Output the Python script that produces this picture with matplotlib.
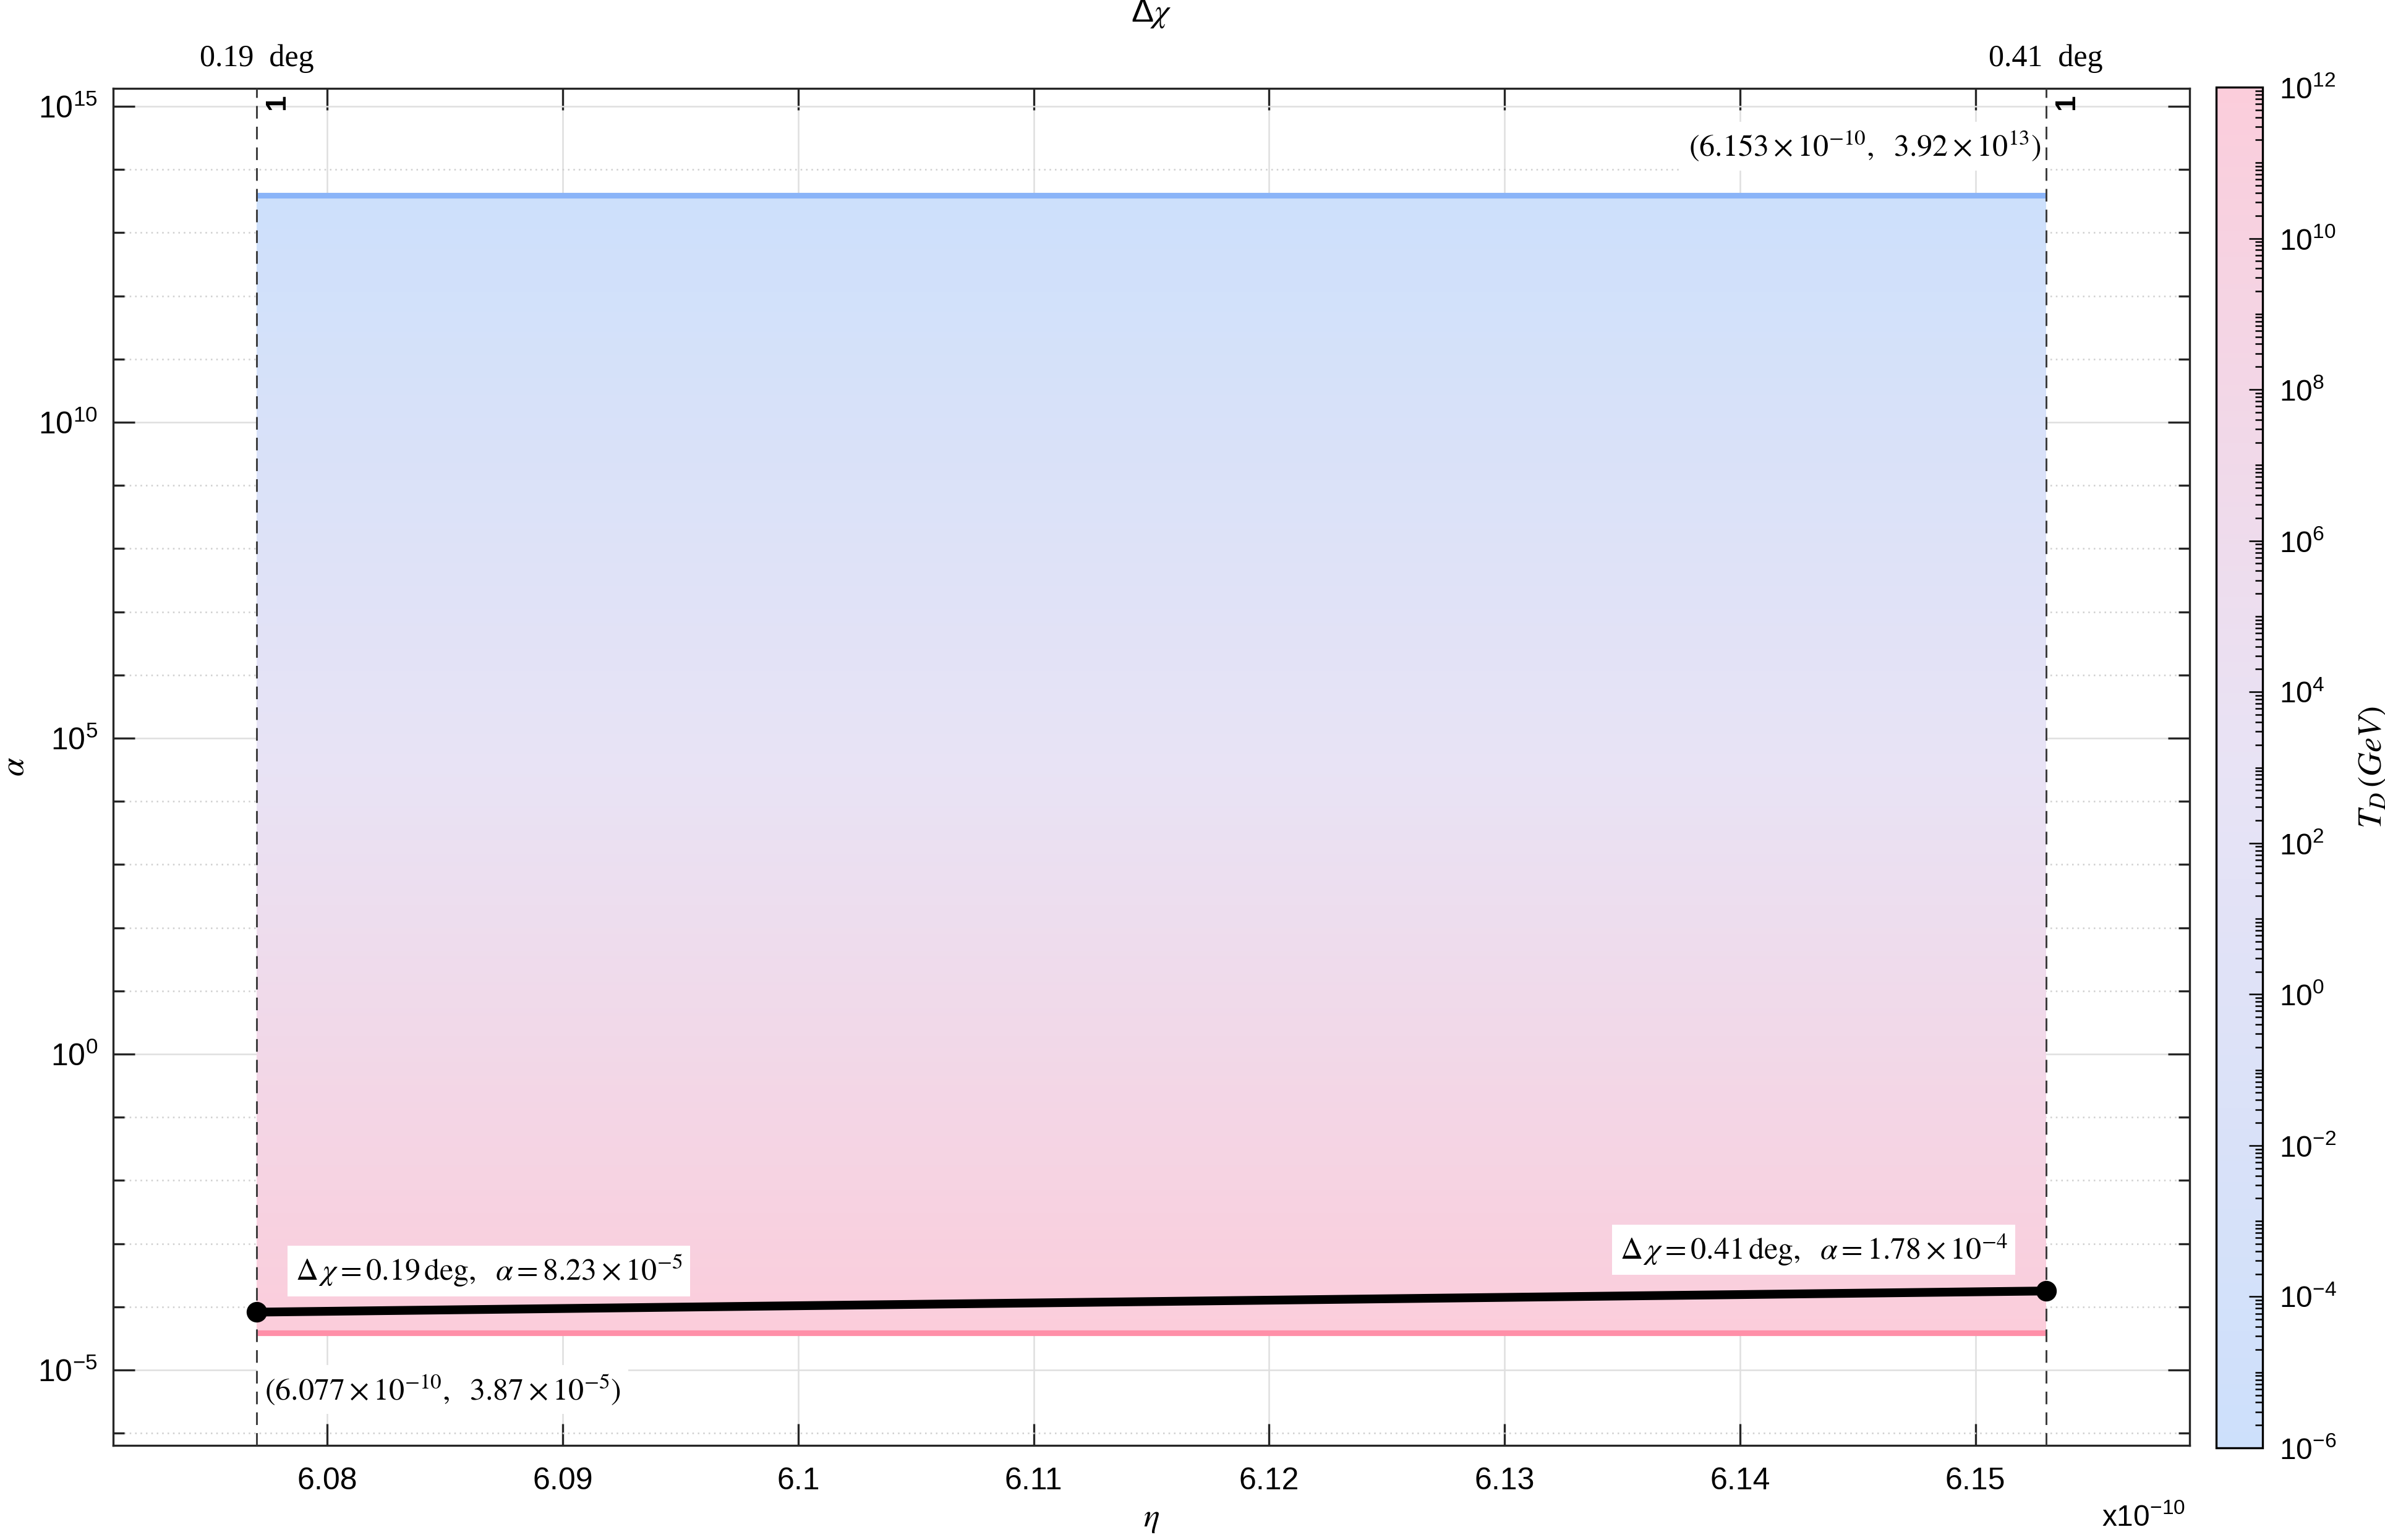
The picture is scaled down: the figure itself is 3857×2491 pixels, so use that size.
import numpy as np
import matplotlib
matplotlib.use("Agg")
import matplotlib.pyplot as plt
from matplotlib import colors, ticker, transforms

plt.rcParams['font.family'] = ['Liberation Sans', 'DejaVu Sans']
plt.rcParams['mathtext.fontset'] = 'stix'

# values
eta = [6.077e-10, 6.153e-10]          # end points of the eta range
alpha = [8.23e-5, 1.78e-4]            # alpha at the two end points
dchi = [0.19, 0.41]                   # Delta chi (deg)
band_alpha = [3.87e-5, 3.92e13]       # lower / upper edge of the shaded band
td_range = [1e-6, 1e12]               # T_D colour scale (GeV)
eta_ticks = [6.08e-10, 6.09e-10, 6.10e-10, 6.11e-10, 6.12e-10, 6.13e-10, 6.14e-10, 6.15e-10]
alpha_ticks = [1e-5, 1e0, 1e5, 1e10, 1e15]
alpha_minor = [10.0 ** k for k in range(-6, 16)]
td_ticks = [1e-6, 1e-4, 1e-2, 1e0, 1e2, 1e4, 1e6, 1e8, 1e10, 1e12]

xlim = [6.0709e-10, 6.1591e-10]
ylim = [10 ** -6.194, 10 ** 15.284]

cmap = colors.LinearSegmentedColormap.from_list('td', ['#cde0fb', '#e8e3f5', '#fbcddb'])


def sci(v):
    e = int(np.floor(np.log10(v)))
    m = v / 10.0 ** e
    return r"%s\times10^{%d}" % (f"{m:.4g}", e)


def pow10(v, pos):
    return r"$\mathregular{10^{%d}}$" % round(np.log10(v))


fig = plt.figure(figsize=(3857 / 300, 2491 / 300), dpi=300)
ax = fig.add_axes([0.04745, 0.06142, 0.87062, 0.88117])
ax.set_yscale('log')
ax.set_xlim(xlim)
ax.set_ylim(ylim)

# gradient band between the two dashed lines
ye = np.logspace(np.log10(band_alpha[0]), np.log10(band_alpha[1]), 400)
yc = np.sqrt(ye[:-1] * ye[1:])
ax.pcolormesh(eta, ye, np.log10(yc)[:, None], cmap=cmap.reversed(),
              vmin=np.log10(band_alpha[0]), vmax=np.log10(band_alpha[1]),
              shading='flat', linewidth=0, edgecolors='face', zorder=1)
ax.plot(eta, [band_alpha[1]] * 2, color='#8ab4f8', lw=2.2, zorder=2, solid_capstyle='butt')
ax.plot(eta, [band_alpha[0]] * 2, color='#ff8fa8', lw=2.2, zorder=2, solid_capstyle='butt')

for x in eta:
    ax.axvline(x, color='#3a3a3a', lw=0.7, ls=(0, (7, 4.5)), zorder=6)

ax.plot(eta, alpha, color='k', lw=3.4, marker='o', ms=7, zorder=7)

# axes / ticks
ax.set_xticks(eta_ticks)
ax.xaxis.set_major_formatter(ticker.FuncFormatter(lambda v, p: f"{round(v * 1e10, 3):g}"))
ax.set_yticks(alpha_ticks)
ax.yaxis.set_major_formatter(ticker.FuncFormatter(pow10))
ax.yaxis.set_minor_locator(ticker.FixedLocator(alpha_minor))
ax.yaxis.set_minor_formatter(ticker.NullFormatter())
ax.tick_params(which='both', direction='in', top=True, right=True, width=0.8,
               color='#262626', labelsize=12)
ax.tick_params(which='major', length=8.4)
ax.tick_params(which='minor', length=4.3)
ax.tick_params(axis='x', pad=8.5)
ax.tick_params(axis='y', pad=6)
for s in ax.spines.values():
    s.set_linewidth(0.8)
    s.set_color('#262626')

ax.set_axisbelow(True)
ax.grid(True, which='major', color='#dfdfdf', lw=0.6)
ax.grid(True, which='minor', axis='y', color='#cfcfcf', lw=0.6, ls=(0, (1, 2.5)))

ax.set_xlabel(r'$\eta$', fontsize=13, labelpad=3)
ax.set_ylabel(r'$\alpha$', fontsize=13, labelpad=3)
ax.text(0.998, -0.064, r'$\mathregular{x10^{-10}}$', transform=ax.transAxes,
        ha='right', va='bottom', fontsize=11.5)

trans = transforms.blended_transform_factory(ax.transData, ax.transAxes)
for x, d in zip(eta, dchi):
    ax.text(x, 1.022, f"{d:.2f}  deg", transform=trans, ha='center', va='center',
            family='Liberation Serif', fontsize=12)
    ax.annotate('1', xy=(x, 1), xycoords=trans, xytext=(8, -5.3), textcoords='offset points',
                rotation=90, fontweight='bold', fontsize=11, ha='center', va='center')
ax.text(0.5, 1.055, r'$\mathregular{\Delta}\chi$', transform=ax.transAxes,
        ha='center', va='center', fontsize=13)

box = dict(boxstyle='square,pad=0.25', fc='white', ec='none')
ax.annotate(r"$(%s,\ \ %s)$" % (sci(eta[1]), sci(band_alpha[1])),
            xy=(eta[1], band_alpha[1]), xytext=(-2, 19), textcoords='offset points',
            ha='right', va='center', fontsize=12, bbox=box, zorder=5)
ax.annotate(r"$(%s,\ \ %s)$" % (sci(eta[0]), sci(band_alpha[0])),
            xy=(eta[0], band_alpha[0]), xytext=(3, -22), textcoords='offset points',
            ha='left', va='center', fontsize=12, bbox=box, zorder=5)
ax.annotate(r"$\Delta\,\chi = %.2f\,\mathrm{deg},\ \ \alpha = %s$" % (dchi[0], sci(alpha[0])),
            xy=(eta[0], alpha[0]), xytext=(15, 16), textcoords='offset points',
            ha='left', va='center', fontsize=12, bbox=box, zorder=5)
ax.annotate(r"$\Delta\,\chi = %.2f\,\mathrm{deg},\ \ \alpha = %s$" % (dchi[1], sci(alpha[1])),
            xy=(eta[1], alpha[1]), xytext=(-15, 16), textcoords='offset points',
            ha='right', va='center', fontsize=12, bbox=box, zorder=5)

# colour bar
cax = fig.add_axes([0.9292, 0.0598, 0.01945, 0.8836])
sm = plt.cm.ScalarMappable(norm=colors.LogNorm(*td_range), cmap=cmap)
cb = fig.colorbar(sm, cax=cax)
cb.set_ticks(td_ticks)
cax.yaxis.set_major_formatter(ticker.FuncFormatter(pow10))
cax.yaxis.set_minor_locator(ticker.LogLocator(base=10, subs=np.arange(1, 10) * 1.0, numticks=100))
cax.yaxis.set_minor_formatter(ticker.NullFormatter())
cax.tick_params(which='both', direction='in', right=True, width=0.6, labelsize=11.5, pad=6.5)
cax.tick_params(which='major', length=5.3)
cax.tick_params(which='minor', length=3)
cb.outline.set_linewidth(0.8)
cb.set_label(r'$T_D\,(GeV)$', fontsize=13, labelpad=8)

fig.savefig('out.png', dpi=300)
